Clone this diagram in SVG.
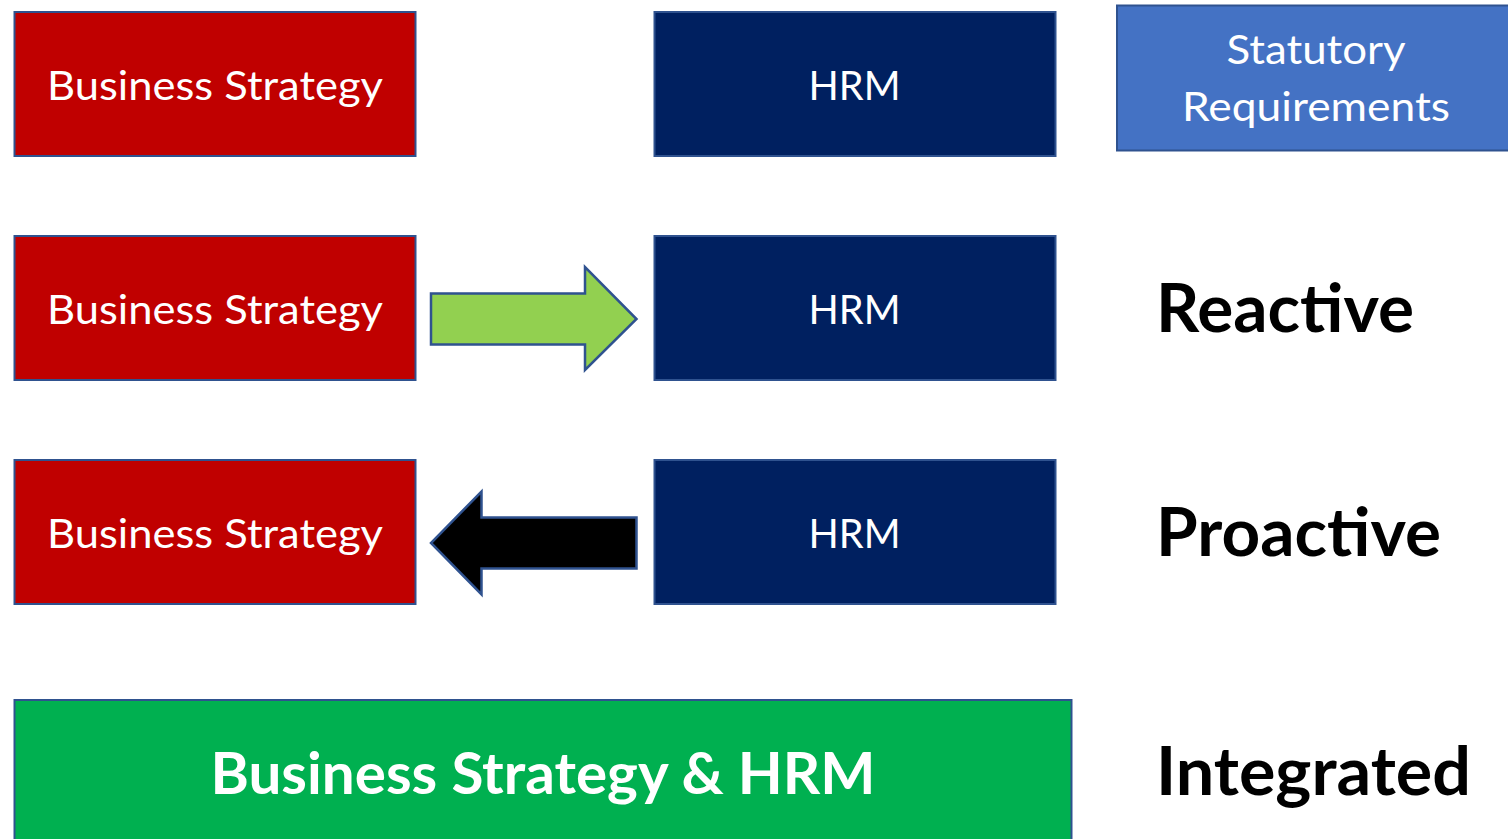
<svg xmlns="http://www.w3.org/2000/svg" width="1508" height="839" viewBox="0 0 1508 839">
  <style>
    .box { stroke: #2F528F; stroke-width: 2; }
    .red { fill: #C00000; }
    .navy { fill: #002060; }
    .blue { fill: #4472C4; }
    .green { fill: #00B050; }
    .lbl { font-family: Lato, "Liberation Sans", sans-serif; fill: #FFFFFF; text-anchor: middle; font-size: 40px; }
    .big { font-weight: bold; font-size: 57px; }
    .side { font-family: Lato, "Liberation Sans", sans-serif; fill: #000000; font-weight: bold; font-size: 67px; }
    .arrow { stroke: #2F528F; stroke-width: 2.5; stroke-linejoin: miter; }
  </style>
  <rect width="1508" height="839" fill="#FFFFFF"/>

  <!-- Row 1 -->
  <g id="bs1">
    <rect class="box red" x="14.5" y="12" width="401" height="144"/>
    <text class="lbl" x="215" y="100" textLength="336" lengthAdjust="spacingAndGlyphs">Business Strategy</text>
  </g>
  <g id="hrm1">
    <rect class="box navy" x="654.5" y="12" width="401" height="144"/>
    <text class="lbl" x="854.5" y="100" textLength="92" lengthAdjust="spacingAndGlyphs">HRM</text>
  </g>
  <g id="statutory">
    <rect class="box blue" x="1117" y="5.5" width="400" height="145"/>
    <text class="lbl" x="1316" y="64" textLength="179" lengthAdjust="spacingAndGlyphs">Statutory</text>
    <text class="lbl" x="1316" y="121" textLength="268" lengthAdjust="spacingAndGlyphs">Requirements</text>
  </g>

  <!-- Row 2 -->
  <g id="bs2">
    <rect class="box red" x="14.5" y="236" width="401" height="144"/>
    <text class="lbl" x="215" y="324" textLength="336" lengthAdjust="spacingAndGlyphs">Business Strategy</text>
  </g>
  <g id="hrm2">
    <rect class="box navy" x="654.5" y="236" width="401" height="144"/>
    <text class="lbl" x="854.5" y="324" textLength="92" lengthAdjust="spacingAndGlyphs">HRM</text>
  </g>
  <g id="reactive">
    <text class="side" x="1156" y="332" textLength="258" lengthAdjust="spacingAndGlyphs">Reactive</text>
  </g>

  <!-- Row 3 -->
  <g id="bs3">
    <rect class="box red" x="14.5" y="460" width="401" height="144"/>
    <text class="lbl" x="215" y="548" textLength="336" lengthAdjust="spacingAndGlyphs">Business Strategy</text>
  </g>
  <g id="hrm3">
    <rect class="box navy" x="654.5" y="460" width="401" height="144"/>
    <text class="lbl" x="854.5" y="548" textLength="92" lengthAdjust="spacingAndGlyphs">HRM</text>
  </g>
  <g id="proactive">
    <text class="side" x="1156" y="556" textLength="285" lengthAdjust="spacingAndGlyphs">Proactive</text>
  </g>

  <!-- Row 4 -->
  <g id="integrated-box">
    <rect class="box green" x="14.5" y="700" width="1057" height="150"/>
    <text class="lbl big" x="543" y="794" textLength="665" lengthAdjust="spacingAndGlyphs">Business Strategy &amp; HRM</text>
  </g>
  <g id="integrated">
    <text class="side" x="1156" y="795" textLength="315" lengthAdjust="spacingAndGlyphs">Integrated</text>
  </g>

  <!-- Connectors -->
  <g id="connectors">
    <polygon class="arrow" fill="#92D050" points="431,293.5 585,293.5 585,267 636.5,319 585,370 585,344.5 431,344.5"/>
    <polygon class="arrow" fill="#000000" points="636.5,517.5 481.5,517.5 481.5,491.5 431,543 481.5,594.5 481.5,568.5 636.5,568.5"/>
  </g>
</svg>
